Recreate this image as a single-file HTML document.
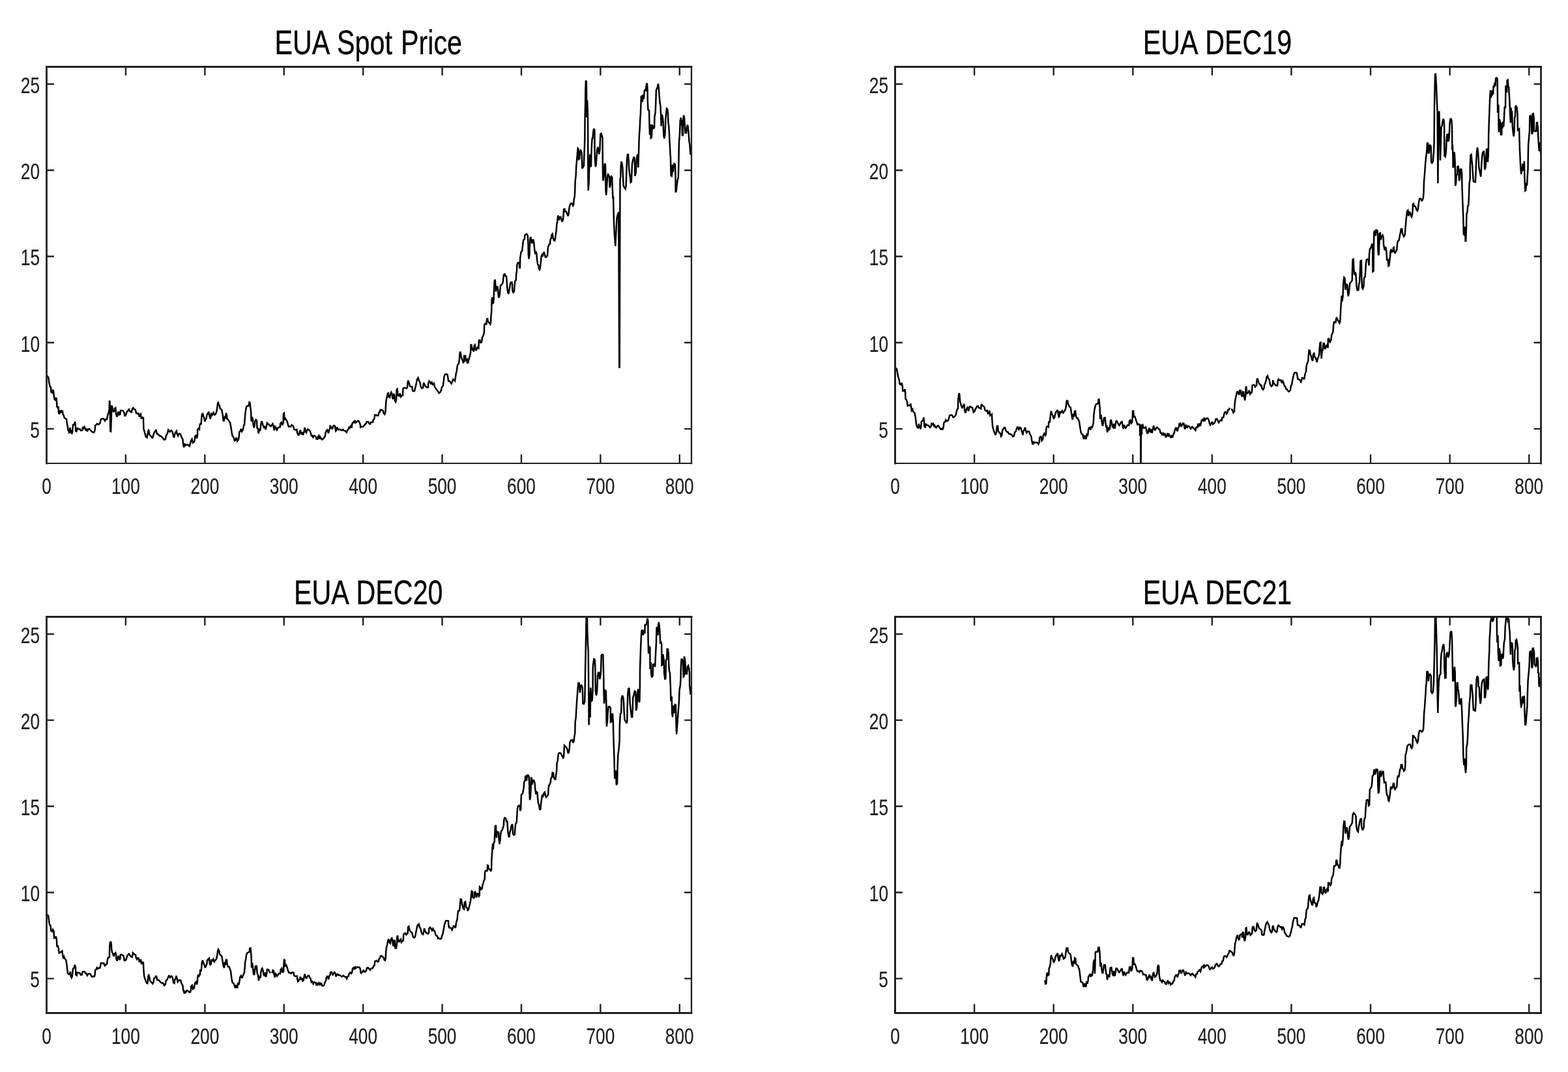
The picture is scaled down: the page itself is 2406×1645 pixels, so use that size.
<!DOCTYPE html>
<html lang="en"><head><meta charset="utf-8"><title>EUA Prices</title>
<style>
html,body{margin:0;padding:0;background:#fff;}
body{width:2406px;height:1645px;overflow:hidden;}
svg{display:block;font-family:"Liberation Sans",sans-serif;}
</style></head>
<body>
<svg width="2406" height="1645" viewBox="0 0 2406 1645">
<rect width="2406" height="1645" fill="#fff"/>
<g>
<clipPath id="c0"><rect x="71.5" y="102.5" width="989.5" height="608.5"/></clipPath>
<path d="M72.3,576.6L74.5,579.6L75.4,587.6L76.7,592.9L78.1,594.6L78.5,601.7L80.1,602.6L81.1,598.1L82,600.8L82.7,606.1L83.6,613.1L85.1,614L86,610L86.9,613.1L87.3,623.7L88.6,625.9L89.5,623.3L90.1,634.3L91.3,634.7L92.4,629.4L93.3,633.4L94.8,630.3L95.9,630.7L96.6,636L97.9,637.8L98.8,641.3L100.1,642.2L101.9,643.1L102.7,648.4L103.6,653.7L104.5,659.8L105.6,662L106.3,665.1L107.6,656.3L108.5,664.2L109.8,659.8L110.2,666L111.1,663.3L112,651.9L113.3,651L114.2,652.8L115.1,647L115.9,653.7L116.2,661.6L117.3,662L118.6,656.3L119.9,658.5L122.1,658.1L123.9,660.7L126.1,660.3L127.1,655L128.3,657.2L129.6,655L130.9,658.1L131.5,660.7L132.7,658.9L134,662L135.3,658.5L137.1,658.1L139.3,660.7L141.5,662.9L144.1,663.8L145.5,660.7L146.2,652.8L147.7,651.9L149,650.1L151.2,651.5L153.4,649.7L154.7,643.5L156.9,642.2L159.1,642.6L160.9,645.7L162.2,643.5L164,643.5L165.3,636.9L166.6,633.4L167.7,628.5L167.9,615.8L168.5,614.9L169.3,661.6L170.1,662L170.8,643.1L171.2,621.9L172.3,624.6L172.8,629L174.5,632.5L176.1,626.8L177.2,625.9L178.1,635.2L179.4,639.6L180.7,634.3L182,631.6L182.9,636.5L184.2,636L185.1,629.9L186.9,629.9L188.6,630.3L190.4,632.5L191.7,638.7L193.5,636L194.8,631.6L196.6,629.9L197.9,628.1L199.6,631.6L201.9,632.5L203.2,626.8L204.5,625.9L205.8,628.1L207.6,628.5L209.3,634.3L211.1,634.7L212.4,634.3L213.7,639.6L215.1,636L215.9,635.2L216.8,642.6L218.1,640.4L219.9,640.9L220.4,658.1L221.7,662.5L223.9,670.4L225.6,671.3L227,663.3L228.1,658.9L229.2,666.9L230.9,668.6L232.7,670.4L234,672.6L235.8,666L237.5,662.5L239.3,660.3L241.1,666L243.3,666.9L245,669.1L247.2,669.5L249.9,672.2L252.1,674.8L253.8,673.9L254.7,669.1L256.9,665.1L258.2,659.8L259.3,661.1L260.6,662.6L262.8,660.4L264.5,662.6L265.4,665.7L266.3,670.1L267.2,670.6L268.5,665.3L269.8,662.6L270.9,661.3L271.6,665.7L273.1,668.8L274.2,666.2L275.1,665.3L276.9,666.2L278.2,670.1L280.4,674.1L281,681.1L282.2,686.4L283.3,680.7L284.8,683.3L286.6,682.5L288.3,682.5L289.6,683.8L291,684.7L292.3,678.9L293.6,675L294.5,673.7L295.8,679.4L298,678.1L298.9,673.7L299.3,669.7L300.7,667.5L302,672.8L302.9,668.8L303.3,658.7L304.6,657.4L305.9,658.7L306.4,653L307.7,649.4L308.6,651.6L309.2,642.4L309.9,635.8L311.2,634.9L312.1,638.4L313.3,641.1L314.1,646.8L315.6,644.1L316.8,641.5L317.4,636.7L319.2,634L320.3,631.8L321.4,638.4L322.5,642.8L323.6,638.9L324.2,634L325.8,636.7L327.5,633.1L329.3,636.7L331.1,634.9L332.4,631.4L333.3,625.6L334.1,618.6L335,617.7L335.9,621.7L336.8,622.1L337.4,626.1L339,627.8L340.3,629.2L341.2,634L341.8,636.7L342.3,642.8L343.2,646.8L344.3,643.3L345,638.4L346,642.4L346.9,634L347.8,636.2L348.5,642.4L350,644.1L351.8,646.8L353.1,648.5L354,653.4L354.8,658.2L355.7,664L356.6,668.8L357.9,670.1L359.3,673.7L360.1,677.2L361.5,673.7L362.8,671.5L364.1,676.7L365.9,674.5L366.7,670.1L367.4,662.6L368.5,661.8L369.8,658.2L371.1,662.2L372.5,660L373.5,656L374.2,652.5L375.1,651.2L375.6,643.3L376.4,634.4L377.3,628.3L378.2,623.9L379.5,623L381.7,622.6L382.6,617.3L383.5,618.1L384.4,626.1L385.2,633.1L385.5,645.5L386.4,645.9L387,639.7L388.1,645L388.8,652.5L389.9,656.5L390.8,651.6L391.4,645.9L392.7,644.1L394.1,645.9L394.5,656.9L395.8,657.4L396.7,665.3L398,657.8L399.3,661.3L400.2,651.6L401.4,646.3L402.4,648.1L403.7,653.4L405.1,656.9L406.4,653.8L407.7,659.1L409,653.8L409.9,649L411.7,650.7L413.9,653L415.6,654.3L417,652.1L418.5,650.3L419.6,654.3L420.9,660.4L422.2,654.7L423.6,656.5L424.9,659.6L426.2,656.9L428,655.6L429.7,655.6L430.2,649.9L431.9,648.1L433.3,652.5L434.6,649L435,634.9L435.9,634L436.6,644.6L438.1,642.4L439.4,644.6L440.7,646.8L441.9,651.6L443,654.7L444.8,654.3L446.2,654.7L447.5,652.1L449.7,653.4L450.6,655.6L451.3,659.1L453.2,659.6L455.4,659.1L456,664L457.2,667L458.5,667.5L459.8,662.6L460.9,660L462,666.6L463.3,663.1L464.7,667.5L466,664.4L466.9,660.9L467.3,656L468.2,657.8L468.9,662.6L470,664L471.3,660L472.2,658.7L473.9,659.6L476.1,662.2L477,665.7L477.9,668.8L479.2,668.4L480.4,671L481.9,668.4L483.6,669.3L485.1,671L485.6,673.7L487.1,673.7L488,670.1L488.9,668.8L490,673.7L491.1,670.1L492.4,672.3L493.9,674.5L495.9,673.2L497.7,671L499,668.8L499.5,664L500.8,660.9L502.1,659.6L503,662.6L504.1,664.8L504.8,660.9L506.1,657.4L506.8,652.5L508,656.5L509.2,656L510,658.7L510.9,654.7L512.4,653L514,653.8L514.4,657.8L515.3,661.3L516.2,660L517.1,655.6L518.4,657.8L519.7,659.6L521.5,658.7L523.3,660L525,660.4L526.3,659.1L528.1,660.9L529.9,661.3L531.8,663.5L533,660.4L534.7,658.2L535.6,655.6L536.9,656.5L538.2,653.8L539.6,656.5L540.4,650.3L541.8,648.1L543.1,646.8L544,649.4L544.7,645L545.7,648.5L547,647.7L548.8,645.9L550.6,646.3L551.9,649L552.8,651.6L553.2,655.6L555,654.7L557.2,654.7L559.4,652.1L561.6,649.9L562.9,647.2L565.1,647.2L566.4,649.9L567.8,650.7L569.1,648.1L570.8,648.1L572.2,647.7L572.6,644.6L574.4,642.8L575,637.1L577,636.7L578.8,638L580.5,637.5L581.4,633.1L582.7,632.7L583.4,629.2L584.9,628.7L586.7,630L588,630.9L588.9,634.4L590.2,635.8L591.4,633.1L591.7,627.8L592.2,617.3L593.1,612L594,608.5L594.9,603.6L595.8,603.2L596.4,608.9L598.1,609.8L599.3,604.1L600.4,601.9L601.4,604.1L602.3,610.7L603.4,612.4L604.3,604.1L605.2,606.3L605.8,614.6L607,616.8L608.1,613.7L608.7,597.9L609.6,597L610.5,606.7L612.2,607.6L614,603.6L614.9,608.9L616.7,607.1L618,606.7L618.4,596.1L619.7,595.2L621.9,595.2L623.7,596.1L625,594.8L625.5,588.2L626.1,583.8L627.2,586L628.1,589.1L629,592.6L630.7,593.5L632.5,593.5L633.1,599.6L634.7,600.5L636,600.1L637.4,594.4L638.7,589.1L639.9,582.5L641.5,579.8L643,584.2L644.5,586.9L645.7,593.5L647.2,595.7L648.9,595.2L650.1,587.3L651.1,589.5L652.9,592.6L655.1,594.4L656.9,594.4L657.3,587.8L658.6,584.7L660.4,586.9L661.3,589.5L662.6,586.9L663.9,590L665.7,588.2L667,593.5L668.8,596.6L671,599.2L672.3,601.4L673.8,603.2L675.4,601.9L676.7,599.6L678,593.9L679.8,592.2L680.7,585.1L681.5,578.1L682.9,574.5L684.2,574.1L686.4,574.5L687.3,578.9L688.1,584.7L689.9,584.7L691.2,586.9L692.7,588.6L694.1,585.1L695.4,582L696.8,583.3L698,584.7L698.9,578.9L699.8,572.8L700.9,569.3L701.4,564L702.2,560L704,557.8L704.9,551.6L705.6,541.1L706.5,539.7L707.5,546.8L708.9,551.2L710.9,556L711.9,554.7L712.1,545.9L714.1,545.9L714.8,553.4L716.8,551.6L717.2,557.8L718.5,556L719.4,551.6L720.7,546.8L722.1,541.1L722.5,529.2L723.6,529.6L724.3,537.5L725.6,535.8L726.9,539.7L727.6,530.5L728.7,529.2L729.6,535.8L730.9,538L731.8,534L733.5,532.2L734.4,535.8L734.8,522.1L736.2,522.1L737.9,526.5L739.3,523.4L740.1,517.3L741.7,514.6L742.8,510.7L743.2,498.8L744.5,496.6L746.3,497.4L747.2,489.5L748.1,489.1L748.9,493.9L750.7,495.2L752.3,497.4L753.2,493.9L753.3,487.3L754.2,477.6L754.5,460.7L755.2,456.3L755.9,466L757.2,464.2L757.6,457.2L758.1,444L758.7,431.6L759.6,429L760.4,438.7L761,447.5L762,439.6L763.6,440.4L764.2,444.8L764.8,454.5L765.7,456.7L766.9,451L767.5,444L768,438.2L769.5,436.9L771,435.2L771.9,431.6L772.4,426.3L773,421.5L774.4,420.6L775.7,423.7L777,424.1L777.7,432.5L778.3,441.3L779.2,448.4L780.5,451L781.6,444L782.7,436.9L783.6,433.4L785.4,433L786,436.9L786.3,445.7L787.6,448.8L788.9,447.5L789.5,439.6L790.2,431.6L791.8,429.9L792.2,419.3L792.9,417.5L793.3,407L794.4,403.4L795.9,403L796.8,405.2L797.3,411.8L798,410.5L798.1,396.4L798.9,391.1L799.5,386.7L801.2,384.9L802.1,376.1L803,368.6L804.8,367.3L805.4,360.7L807,359.8L808,358.9L809.6,360.7L810.3,369.1L810.9,392L811.5,397.3L812.4,392L812.7,378.8L813.6,365.6L814.4,363.8L815.3,369.1L816.5,373.5L817.1,368.2L818.4,368.2L819.3,372.6L820.2,382.3L821.2,390.2L822.4,385.8L823.3,389.3L824.1,398.1L825,405.2L826.3,407L827.2,413.1L828.1,414L829,409.6L829.9,401.7L830.6,392.9L831.6,391.1L832.5,393.7L833.6,389.3L834.7,386.7L836,391.1L836.9,394.6L838.2,394.6L840,392L840.4,385.8L841.1,378.8L842.6,375.2L844,374.4L844.4,368.2L845.7,365.6L846.6,360.3L847.7,358.9L848.8,365.6L850,369.1L851.2,369.5L852.1,364.7L852.8,359.4L853.7,353.2L854.4,343.5L855,341.3L855.9,332.5L856.7,330.7L857.6,337.8L858.9,333.3L860.4,332.9L861.6,337.8L862.9,340.4L864,336.9L864.7,328.1L865.1,321L866.4,320.6L867.3,324.5L868.6,324.5L870.4,328.1L871.5,331.6L872.6,328.1L873.3,320.1L874.2,315.7L875.2,313.1L876.3,311.8L877.7,312.2L879.2,315.7L880.1,314L880.5,306.9L881.6,302.5L882.1,296.3L882.6,278.7L883.6,269.9L884.2,255.8L885.1,246.1L885.8,236.4L886.7,227.6L887.6,228.5L888,244.4L889.3,243.5L890,232L891.1,230.7L892.4,233.8L892.9,240L893.3,258.5L894.6,256.7L895.9,254.1L896.4,237.3L896.8,228.5L897.3,212.6L897.6,179.3L898.1,159.9L898.5,135.2L898.9,123.6L899.8,125.6L900.4,180.2L901.1,153.7L901.9,174.9L902.2,205.7L902.4,271.7L902.7,292.4L903.6,280.5L904.1,261.1L904.8,243.5L905.4,236.7L906.1,255.9L907,255L907.4,237.4L908,221.5L908.7,211.8L909.3,213.7L910,205.7L910.7,199.6L911.5,197.6L912.4,199.6L912.5,228.8L912.8,242L913.3,250.8L913.9,256.1L914.8,250.8L915.7,237.6L916.3,228.8L917.4,225.7L918.6,232.3L919.2,236.7L920.4,230.6L920.7,221.8L921.4,205.7L922.5,204.8L923.6,208.4L924.5,211.2L924.8,246.4L925.1,271.1L925.6,277.3L926.5,271.1L927.1,260.5L928,250.8L928.9,252.6L929.3,272.9L929.5,294L930.2,299.3L930.9,289.6L931.5,279.9L932.4,269.3L933,267.6L934.2,269.3L935.1,271.1L935.5,287.8L936.4,285.2L937.3,272.9L938.1,270.7L939.2,272L939.7,287L940.4,304.6L941,301.1L941.7,330.1L942.1,343.3L943,361L944.3,377.7L945.6,352.2L946.5,334.5L947.8,329.3L949.2,325.3L950.2,563.6L950.7,563.6L951.4,308.1L951.5,275.5L952.2,272L952.7,255.2L953.3,247.8L954.4,250.8L955.3,257L955.9,271.1L956.7,285.2L958,287.8L959.7,290L960.6,285.2L961.2,267.6L961.9,246.4L962.8,237.6L963.9,236.3L964.6,247.3L965.3,260.5L966.2,267.6L967,272L967.7,279.9L968.8,279L969.4,264.9L970,251.7L971.2,245.6L972.3,241.6L973.6,242L974.1,254.4L974.4,270.2L975.6,265.8L976.2,256.1L976.7,246.4L977.6,238.5L978.7,237.6L979.4,257L980,235L980.6,214.5L981.1,204.8L981.8,195.2L982.2,184.6L982.9,174.9L983.3,164.3L983.8,148.5L984.7,147.6L985.3,156.4L986.2,153.7L987,145.8L987.9,152L988.8,139.6L989.7,137.9L991,138.8L991.7,130.4L992.8,127.5L993.5,135.2L993.8,155.5L994.5,168.7L996.1,169.6L996.5,190.7L997,206.6L998.1,190.7L998.8,211.9L999.8,211L1000.9,192.5L1002,193.4L1002.9,197.8L1004.1,195.2L1004.4,179.3L1005.6,173.1L1006.2,159.9L1006.9,137.9L1008.2,136.1L1009.1,132.6L1010,128.4L1010.8,135.2L1011.7,147.6L1012.6,158.1L1013.5,162.6L1014.1,175.8L1014.6,193.4L1015.7,175.8L1016.7,179.3L1017.6,186.3L1018.3,207.5L1019.4,212.8L1020.3,207.5L1021,193.4L1021.4,181.9L1022.3,173.1L1022.9,166.5L1024.1,167.4L1024.9,174L1025.4,188.1L1026.1,192.5L1026.7,200.4L1027.3,214.5L1028,225.1L1028.5,237.4L1028.9,239.8L1029.6,269.3L1030.7,270.2L1031.4,264.1L1032,252.6L1032.9,264.1L1033.7,255.2L1034.6,251.3L1035.9,252.2L1036.4,264.1L1036.7,295.3L1037.7,293.1L1038.6,285.2L1039.5,277.3L1040.8,272L1041.2,259.6L1041.7,230.6L1042.1,215.4L1043,205.7L1043.7,185.5L1044.8,180.6L1045.6,192.5L1046.3,183.7L1047,208.4L1047.8,207.5L1048.5,181.1L1049.2,176.7L1050,180.6L1050.9,193.4L1051.4,204L1053.1,204L1054,195.2L1054.9,191.6L1055.8,195.2L1056.7,204.8L1057.5,217.2L1058.4,221.6L1059.3,235.7L1060.6,237.4" fill="none" stroke="#000" stroke-width="2.5" stroke-linejoin="miter" stroke-miterlimit="2.5" clip-path="url(#c0)"/>
<g stroke="#202020" stroke-linecap="square" fill="none"><line x1="71.5" y1="102.5" x2="71.5" y2="711.0" stroke-width="2.8"/><line x1="71.5" y1="102.5" x2="1061.0" y2="102.5" stroke-width="2.8"/><line x1="1061.0" y1="102.5" x2="1061.0" y2="711.0" stroke-width="2.3"/><line x1="71.5" y1="711.0" x2="1061.0" y2="711.0" stroke-width="2.2"/></g>
<text transform="translate(71.50,758.00) scale(0.76,1)" text-anchor="middle" font-size="34.6" fill="#202020" stroke="#202020" stroke-width="0.2">0</text>
<text transform="translate(192.91,758.00) scale(0.76,1)" text-anchor="middle" font-size="34.6" fill="#202020" stroke="#202020" stroke-width="0.2">100</text>
<text transform="translate(314.32,758.00) scale(0.76,1)" text-anchor="middle" font-size="34.6" fill="#202020" stroke="#202020" stroke-width="0.2">200</text>
<text transform="translate(435.73,758.00) scale(0.76,1)" text-anchor="middle" font-size="34.6" fill="#202020" stroke="#202020" stroke-width="0.2">300</text>
<text transform="translate(557.14,758.00) scale(0.76,1)" text-anchor="middle" font-size="34.6" fill="#202020" stroke="#202020" stroke-width="0.2">400</text>
<text transform="translate(678.56,758.00) scale(0.76,1)" text-anchor="middle" font-size="34.6" fill="#202020" stroke="#202020" stroke-width="0.2">500</text>
<text transform="translate(799.97,758.00) scale(0.76,1)" text-anchor="middle" font-size="34.6" fill="#202020" stroke="#202020" stroke-width="0.2">600</text>
<text transform="translate(921.38,758.00) scale(0.76,1)" text-anchor="middle" font-size="34.6" fill="#202020" stroke="#202020" stroke-width="0.2">700</text>
<text transform="translate(1042.79,758.00) scale(0.76,1)" text-anchor="middle" font-size="34.6" fill="#202020" stroke="#202020" stroke-width="0.2">800</text>
<text transform="translate(61.00,671.79) scale(0.76,1)" text-anchor="end" font-size="34.6" fill="#202020" stroke="#202020" stroke-width="0.2">5</text>
<text transform="translate(61.00,539.50) scale(0.76,1)" text-anchor="end" font-size="34.6" fill="#202020" stroke="#202020" stroke-width="0.2">10</text>
<text transform="translate(61.00,407.22) scale(0.76,1)" text-anchor="end" font-size="34.6" fill="#202020" stroke="#202020" stroke-width="0.2">15</text>
<text transform="translate(61.00,274.94) scale(0.76,1)" text-anchor="end" font-size="34.6" fill="#202020" stroke="#202020" stroke-width="0.2">20</text>
<text transform="translate(61.00,142.66) scale(0.76,1)" text-anchor="end" font-size="34.6" fill="#202020" stroke="#202020" stroke-width="0.2">25</text>
<path d="M192.91,711.0v-13.8M192.91,102.5v13.3M314.32,711.0v-13.8M314.32,102.5v13.3M435.73,711.0v-13.8M435.73,102.5v13.3M557.14,711.0v-13.8M557.14,102.5v13.3M678.56,711.0v-13.8M678.56,102.5v13.3M799.97,711.0v-13.8M799.97,102.5v13.3M921.38,711.0v-13.8M921.38,102.5v13.3M1042.79,711.0v-13.8M1042.79,102.5v13.3M71.5,658.09h11.4M1061.0,658.09h-10.9M71.5,525.80h11.4M1061.0,525.80h-10.9M71.5,393.52h11.4M1061.0,393.52h-10.9M71.5,261.24h11.4M1061.0,261.24h-10.9M71.5,128.96h11.4M1061.0,128.96h-10.9" fill="none" stroke="#202020" stroke-width="2.4"/>
<text transform="translate(565.25,82.70) scale(0.783,1)" text-anchor="middle" font-size="52.7" fill="#000" stroke="#000" stroke-width="0.35" word-spacing="2">EUA Spot Price</text>
</g>
<g>
<clipPath id="c1"><rect x="1373.5" y="102.5" width="991.0" height="608.5"/></clipPath>
<path d="M1374.3,564.7L1376.1,566.4L1377.2,572.6L1378.3,578.8L1379.6,582.3L1380.5,589.3L1382.1,590.2L1383.6,587.6L1384.7,592L1385.3,599.9L1387.1,599.9L1388.4,597.3L1389.1,601.7L1389.5,612.2L1391.1,614L1391.8,616.7L1392.8,622.8L1394.8,621.9L1395.9,622.4L1397.2,619.3L1398.1,624.6L1398.8,629.9L1400.3,628.1L1401.2,631.6L1403.4,633.4L1404.5,638.7L1405.3,644.8L1406.1,651.9L1407.4,655.4L1408.7,657.2L1409.8,650.1L1410.6,656.3L1411.8,652.8L1412.4,658.9L1413.3,653.7L1414,646.6L1415.3,645.7L1416.4,644.8L1417.3,640.4L1417.9,645.7L1418.4,654.5L1419.7,655.4L1420.9,651L1422.4,652.3L1424.7,652.8L1425.9,654.5L1427,655.9L1428.5,654.5L1429.4,650.1L1430.7,651.5L1432,650.1L1433.2,653.7L1434.2,652.8L1435.3,655.4L1436.7,656.3L1437.9,654.1L1439.5,653.2L1441.3,655.4L1443.1,658.5L1445.3,657.6L1446.4,658.5L1447.5,656.3L1448.3,649.3L1449.2,647.5L1450.5,647L1451.2,644.4L1452.7,646.2L1455.2,644.8L1456.1,641.3L1457.2,637.4L1458.9,636.9L1461.1,637.4L1462.4,640.4L1464.2,640L1465.8,637.8L1466.8,636.5L1467.7,631.6L1468.8,628.1L1469.9,627.2L1470.2,614.9L1471.1,605.2L1472,603.4L1472.6,608.7L1473.2,616.7L1474.3,619.3L1474.8,621.9L1476.5,626.3L1478.1,621.9L1479.6,620.2L1480.2,630.7L1481.6,633.8L1482.9,628.1L1484.3,625.5L1485.3,628.1L1486.4,630.7L1487.3,624.6L1488.4,623.7L1490.2,625L1492,625.5L1492.8,628.1L1493.7,632.5L1495.5,631.2L1496.8,627.2L1498.1,625.9L1499.4,623.3L1501,623.3L1502.1,625.9L1503.9,626.3L1505.2,627.2L1505.8,620.2L1507.4,622.4L1509,623.3L1510.5,624.6L1511.3,629L1513.1,630.7L1514.9,629.9L1516,634.7L1517.5,634.3L1518.4,629.9L1519.3,637.8L1520.6,636.9L1521.9,635.6L1522.4,644.8L1523.1,654.5L1524.1,658.1L1525.7,663.3L1527.6,667.8L1529,662.5L1529.8,653.7L1531,653.7L1531.6,660.7L1533.4,664.2L1535.1,665.1L1536,669.5L1537.3,667.8L1538.2,660.7L1539.5,658.1L1540.9,655.9L1542.2,656.3L1543.3,660.7L1544.8,662.5L1546.6,662.9L1547.9,665.6L1550.1,666L1552.3,666.9L1554.1,670L1555.8,669.1L1557.2,663.3L1558.9,661.6L1560.2,657.2L1561.6,654.5L1562.1,656.8L1563.3,659L1564.8,655.9L1566.5,656.8L1567.7,661.6L1568.7,664.3L1569.4,667.4L1570.5,661.6L1571.8,659L1573,655.9L1574,660.7L1575.3,664.3L1576.7,662.1L1579.1,662.1L1580.2,666L1582.4,669.6L1583,674.8L1583.9,679.3L1584.8,682.3L1585.9,677.5L1587.2,679.7L1589,678.8L1591.6,679.3L1593.4,681.5L1594.7,678.4L1595.2,672.2L1596.5,670L1597.6,670.4L1598.5,676.2L1600,674.4L1600.9,667.8L1602.4,665.2L1604,668.2L1605,666L1605.3,658.1L1606.4,654.6L1607.9,654.1L1608.8,655L1609.3,646.7L1610.6,648.4L1611.2,644L1612.1,635.6L1613,630.8L1613.9,635.2L1615.3,637L1616.8,642.7L1618.1,640.5L1618.8,637L1620,633L1621.6,630.8L1622.9,629L1623.8,635.2L1624.7,639.6L1625.6,638.7L1626,631.2L1627.8,633.4L1629.7,630.4L1631.3,633.4L1632.6,631.7L1634.1,629.9L1635.3,626.4L1636.1,621.1L1636.8,614.9L1638.2,614.9L1638.8,619.3L1640.1,622.4L1641.4,624.6L1642.7,625.1L1643.5,630.8L1644.3,635.2L1645,640.5L1645.8,644L1646.7,635.2L1648,639.6L1648.9,631.2L1650,630.8L1650.9,637.8L1652,641.4L1653.8,641.4L1654.9,644.9L1656,646.2L1656.7,651.9L1657.7,658.1L1658.6,663.4L1659.7,666L1661.3,666.5L1662.1,670.4L1663,674L1664.3,668.2L1665.7,671.3L1666.5,674L1667.9,665.2L1669,669.1L1670.1,659L1671.8,655.5L1673.4,659.9L1674.5,655L1675.8,655.9L1676.9,652.8L1677.8,648.4L1678.4,637L1679.3,629.5L1680.5,623.7L1681.7,620.2L1683.3,619.8L1684.9,619.3L1685.5,613.2L1686.4,612.7L1687,619.3L1687.7,626.4L1688.1,643.1L1689.4,636.5L1690.3,643.6L1691.2,651.1L1692.1,653.7L1693.1,647.5L1693.9,641.4L1695.6,640.9L1696.5,649.3L1697.2,654.6L1698.3,654.1L1699,663.4L1700,660.7L1701.3,655.5L1702.2,659.9L1703.1,656.3L1704,645.8L1704.9,644L1705.7,647.5L1706.9,654.6L1708.1,655.9L1709,650.2L1710.6,657.7L1711.6,651.1L1712.4,646.7L1713.4,645.8L1714.8,648L1716.1,651.1L1717.5,652.8L1719,650.2L1720.5,647.5L1721.6,647.1L1722.7,653.7L1723.8,658.1L1724.9,651.9L1726,654.6L1727.3,656.8L1728.7,654.6L1730,652.4L1732.2,652.8L1733.1,645.8L1734.4,644.9L1735.7,649.7L1737,648.4L1737.7,641.4L1738.1,630.8L1739.2,630.8L1739.7,639.6L1741.3,639.2L1742.7,643.1L1744.1,647.5L1745.4,651.5L1746.9,651.1L1746.9,650.9L1748.2,651.2L1748.9,651.5L1749.3,669L1749.7,651.8L1750.2,669L1750.3,717.4L1750.6,717.4L1750.9,669L1751.4,651.8L1751.9,667.2L1752.4,651.8L1753.2,651.5L1753.9,653.1L1754.8,656.7L1756.6,656.7L1758.1,655.3L1759,659.3L1760.1,664.6L1761.4,664.6L1762.5,659.3L1763.6,656.7L1765,663.7L1766.3,658.4L1767.6,664.6L1768.9,659.3L1770.1,653.1L1771.1,657.5L1772.4,660.6L1773.8,657.5L1775.1,655.8L1776.4,656.2L1778,658.4L1779.5,659.3L1780.8,664.6L1782.1,664.6L1783.3,668.1L1784.8,665L1786.1,667.2L1787.4,665.9L1788.9,671.2L1790.1,669L1791.4,664.6L1792.7,669.9L1794,666.8L1795.4,669L1796.7,672.1L1798,669L1799.3,670.3L1800.6,666.3L1802,663.7L1802.8,659.3L1804.6,655.8L1805.5,659.3L1806.8,661.9L1807.7,656.7L1809,654.9L1809.7,650L1811.2,649.6L1812.5,654.9L1813.9,651.8L1815.2,649.6L1816.5,650L1817.4,655.8L1818.5,658.4L1819.8,652.7L1820.9,654L1821.8,656.7L1823.1,653.6L1824.9,654.4L1827.1,658L1829.3,654.9L1831,656.7L1832.8,658L1834.4,660.2L1835.4,655.8L1837.2,655.8L1838.1,651.8L1839.4,653.6L1840.7,649.6L1841.8,654L1842.9,649.6L1843.8,644.8L1845.1,643.9L1846.5,645.6L1847.8,640.8L1849.1,644.8L1850.4,643L1851.7,641.7L1853.5,642.1L1854.8,644.8L1855.9,649.6L1857,652.2L1858.8,649.6L1859.9,647L1861,650.9L1862.8,649.6L1864.5,647.4L1865.6,643L1867.2,642.6L1868.9,646.1L1870.2,648.3L1872,645.6L1873.5,644.3L1874.6,645.2L1875.3,640.8L1877.3,640.4L1878.2,635.9L1879.1,632.9L1880.8,632L1882.1,635.1L1883.5,633.3L1884.3,628.9L1885.8,628.5L1887,625.8M1889.6,627.1L1890.9,629.3L1892.5,633.3L1894,631.1L1894.6,620.5L1895.4,613.5L1896.4,609.5L1897.3,604.7L1898.4,600.3L1899.6,602.9L1901.3,606L1902,598.9L1903.7,598.9L1904.6,605.6L1905.9,609.1L1907,601.1L1908.1,601.6L1909,609.1L1910.2,614.4L1911,609.1L1911.7,594.1L1912.5,594.1L1913.1,603.8L1915.2,602.9L1916.9,598.9L1918.3,604.7L1919.6,602.9L1920.9,602L1921.6,591.5L1923.1,590.6L1924.9,591L1926,593.7L1928,591.5L1928.4,584.4L1929.3,580.4L1930.6,584.4L1931.9,588.4L1933.7,590.1L1934.8,591.9L1935.4,590.4L1936.3,595.7L1938.2,597.9L1939.5,595.7L1940.2,590.4L1941.6,587.8L1942.6,584.2L1943.7,578.1L1945.1,576.7L1946.1,580.7L1947.7,582.5L1948.6,587.8L1949.7,591.7L1951,593L1952.8,590.8L1953.2,583.3L1954.3,587.8L1955.8,589.5L1958,591.7L1960.1,591.7L1960.7,585.1L1961.8,582L1963.8,583.8L1965.5,583.3L1967.1,587.8L1968.3,584.7L1969.5,586.9L1970.8,592.2L1972.1,593L1973.3,596.6L1974.8,597.4L1976.1,599.6L1977.4,601L1978.9,600.1L1980.1,598.3L1980.9,592.2L1982.3,589.5L1983.1,584.2L1984.2,578.9L1985.4,574.5L1986.2,571.9L1988,571.7L1989.8,572.3L1990.6,576.3L1991.3,581.6L1993.3,582L1994.6,583.3L1996.2,586L1997.2,583.3L1998.1,579.8L1999.9,580.3L2001.2,582L2002.1,576.3L2003,572.3L2004.1,570.1L2004.5,563.1L2005.4,558.7L2006.5,556L2007.4,553.4L2007.8,545.5L2008.7,537.5L2010,538L2010.6,543.7L2011.8,546.3L2013.1,551.6L2014.4,553.8L2015,543.7L2016.2,542.4L2017.1,547.2L2018.4,549L2019.7,551.6L2020.6,556L2021.7,550.7L2023,548.1L2024.1,544.6L2024.7,534.9L2025.6,526.1L2026.5,525.6L2027.2,539.3L2027.6,550.3L2028.5,539.3L2029.8,537.5L2030.6,527L2031.8,527L2032.7,534L2033.5,535.8L2035,530.5L2036.2,529.2L2037.6,534L2038,519.9L2039.1,519.7L2040.9,524.8L2042.6,521.7L2043.1,514.6L2044.4,512L2045.5,508.9L2046.1,499.6L2047,493.9L2048.3,493.9L2049.4,495.7L2050.1,490L2051,486.9L2052.3,490.8L2053.8,492.6L2055.4,495.7L2056.3,493.5L2056.7,487.3L2057.3,474.1L2057.9,465.3L2058.7,453.7L2059.4,462.5L2060.5,455.4L2060.9,444L2061.6,431.6L2062.4,425.5L2063.3,426.3L2063.9,431.6L2064.5,444.8L2065.6,438.7L2066.5,435.6L2067.4,437.8L2068,448.4L2068.9,454.5L2069.8,450.1L2070.6,441.3L2071.1,435.2L2072.4,433.4L2073.7,432.1L2074.8,429.9L2075,416.7L2075.7,398.1L2076.8,397.7L2077.2,410.5L2078.1,421.9L2079.4,418.4L2080.3,419.3L2080.9,428.1L2081.5,438.7L2082.7,445.3L2084.3,445.3L2085.2,436.9L2086.1,431.6L2086.9,417.5L2087.6,400.4L2088.9,399.9L2089.4,428.1L2090,441.3L2091.2,443.1L2092.4,439.6L2093.1,426.3L2094.7,424.6L2095.3,415.8L2095.9,405.2L2096.8,398.6L2098.4,397.7L2099.7,398.6L2100.6,407.4L2101,391.1L2101.9,382.3L2103.2,380.5L2104.4,377.9L2105.3,373.9L2106.1,377L2106.5,416.7L2107.6,415.8L2107.9,387.6L2108.3,357.6L2109,353.7L2110.7,362L2111.6,353.2L2113.5,353.7L2114.1,360.3L2114.4,380.5L2115,391.5L2115.8,390.2L2116.4,373.5L2116.9,358.1L2117.9,357.6L2118.7,368.2L2120,362.9L2121.5,360.7L2122.6,363.8L2123.1,375.2L2124.1,381.4L2125,384.1L2126.1,378.8L2127,382.3L2127.6,390.2L2128.3,399.9L2129.7,397.3L2130.5,408.3L2131.4,407.8L2132.3,399.9L2133.2,392L2133.8,384.5L2134.5,383.6L2135.6,386.7L2137.2,385.8L2137.9,380.5L2138.7,379.6L2139.6,386.7L2140.7,388L2142,385.8L2143.3,383.6L2144,374.4L2144.9,370L2146.4,369.1L2147.3,365.6L2148.2,359.4L2149,357.2L2149.7,351.5L2151.3,351.5L2152,358.5L2153,360.3L2154.1,363.1L2155.7,360.7L2156.4,351.5L2157,344.4L2158,333.3L2158.7,327.2L2159.4,323.7L2160.3,322.8L2161.2,331.6L2162.4,325.4L2163.9,326.3L2165.1,331.6L2166,332.9L2167.1,328.9L2167.6,322.8L2168,313.5L2168.9,312.6L2170,316.2L2171.5,316.6L2172.8,319.3L2173.9,322.8L2175,323.7L2175.9,321L2176.5,314.8L2177.2,309.6L2178.1,305.2L2179.4,304.7L2180.8,306L2181.8,308.7L2183,306L2183.9,303.4L2184.5,295.5L2185,278.7L2185.6,272.6L2186.2,264.6L2187.1,252.3L2188,241.7L2188.9,235.6L2189.6,227.6L2190,219.7L2191.2,219.7L2191.8,235.6L2192.9,233.8L2193.5,223.2L2194.7,222.8L2195.7,225L2196.2,248.8L2197.3,250.1L2198.8,247.9L2199.4,239.1L2200,232.9L2200.6,218.8L2201,166.1L2201.6,135.2L2202,114.1L2202.9,113.7L2203.8,129.1L2204.7,150.2L2205.6,171.4L2205.9,211.9L2206.4,281.3L2207.1,205.7L2207.5,171.8L2208.4,171.8L2209.1,199.6L2210,246.1L2211,214.5L2211.5,195.6L2212.8,192.5L2213.5,187.2L2214.5,183.3L2215.4,183.7L2216.1,192.5L2216.3,223.3L2216.5,239L2217.6,240.4L2218.5,236.4L2219.1,227.6L2219.6,215.4L2220.4,206.6L2221.4,206.2L2222.1,217.2L2223.2,214.5L2223.9,205.7L2224.5,190.7L2225.4,182.8L2226.3,182.4L2227.4,184.6L2228,193.4L2228.2,210.1L2228.3,230.2L2229,222.3L2229.4,238.1L2229.6,256.3L2230.1,256.3L2230.8,238.2L2231.7,233.3L2232.6,247L2233.2,285.3L2234.1,281.4L2234.7,269L2235.8,268.1L2236.3,255.8L2237.6,255.4L2238.5,262.9L2238.9,277.4L2240,275.2L2240.9,259.8L2242.4,259.8L2243.1,267.3L2243.5,286.7L2244.4,312.2L2245.3,333.3L2245.8,358.7L2247.1,361.3L2248,347.7L2248.6,369.7L2249.3,369.7L2250,348.1L2250.4,328.7L2251.5,325.2L2252.2,316.4L2253.3,314.6L2253.9,302.3L2254.6,282L2255.7,274.1L2255.8,255.4L2256.5,238.2L2257.6,237.3L2258.3,245.2L2259.2,254.1L2260.1,268.1L2260.9,278.3L2262.3,278.7L2263.8,279.2L2264.5,266.4L2265.2,247L2266.1,232.9L2266.9,226.3L2267.8,231.1L2268.7,243.5L2269.3,255.8L2270.2,261.1L2271.3,266.4L2272.2,271.2L2272.8,262.9L2273.5,248.8L2274.2,240L2275,234.7L2276.8,231.3L2277.7,240.8L2278.1,260.2L2279.4,257.6L2280.3,243.5L2281,229.4L2282.1,228.9L2282.8,248.8L2283.7,239.1L2284,223.2L2284.2,204.8L2284.7,189.9L2285.3,174.9L2285.7,161.7L2286.4,146.7L2287,138.3L2287.9,150.2L2288.8,138.8L2290.1,144.9L2291.2,143.6L2291.5,131.7L2292.3,134.4L2293.2,129.1L2294.5,130.4L2295.2,120.3L2296.5,119.4L2297.6,120.7L2297.9,144.1L2298.1,173.1L2298.5,160.8L2299.4,161.7L2299.5,189.9L2299.8,202.6L2300.7,182.8L2302,187.2L2302.9,206.6L2304.2,206.6L2304.4,188.1L2305.6,196.9L2306.4,186.3L2307.3,194.3L2308.2,174.9L2308.8,163.4L2310,166.1L2310.4,132.6L2311.7,132.6L2312.2,142.3L2312.6,123.3L2313.7,122.5L2314.4,133.5L2315.2,133.9L2315.7,144.1L2316.4,154.6L2317,173.1L2317.9,188.5L2318.3,165.2L2319.2,170.5L2320.1,171.4L2320.8,194.3L2321.9,204.8L2322.7,209.3L2323.4,204L2324.1,180.2L2324.9,178.4L2325.4,163.4L2326.4,162.6L2327.6,165.2L2328.5,175.8L2328.9,199.6L2331.1,197.8L2331.5,214.5L2332,232.2L2332.1,232L2333,252.3L2334.1,267.3L2335.4,262L2336.3,251.4L2337.6,262L2338.9,247.4L2339.4,271.7L2340.2,292.8L2341.3,291.9L2341.8,282.2L2343.2,282.9L2343.6,273.2L2344.5,260L2344.8,240L2345.2,221.6L2346.1,211L2347,200.4L2347.4,178.4L2348.5,177.5L2349.6,180.2L2350.5,205.7L2351.4,204.8L2351.6,174.9L2352.7,174.4L2353.6,180.2L2354,201.3L2355.3,201.3L2357.1,201.3L2357.8,188.5L2358.9,188.1L2359.7,194.7L2360.4,212.8L2361.3,226L2361.9,232.2L2362.8,218.5L2363.7,223.3L2364.3,237.4" fill="none" stroke="#000" stroke-width="2.5" stroke-linejoin="miter" stroke-miterlimit="2.5" clip-path="url(#c1)"/>
<g stroke="#202020" stroke-linecap="square" fill="none"><line x1="1373.5" y1="102.5" x2="1373.5" y2="711.0" stroke-width="3.0"/><line x1="1373.5" y1="102.5" x2="2364.5" y2="102.5" stroke-width="2.8"/><line x1="2364.5" y1="102.5" x2="2364.5" y2="711.0" stroke-width="2.8"/><line x1="1373.5" y1="711.0" x2="2364.5" y2="711.0" stroke-width="2.2"/></g>
<text transform="translate(1373.50,758.00) scale(0.76,1)" text-anchor="middle" font-size="34.6" fill="#202020" stroke="#202020" stroke-width="0.2">0</text>
<text transform="translate(1495.10,758.00) scale(0.76,1)" text-anchor="middle" font-size="34.6" fill="#202020" stroke="#202020" stroke-width="0.2">100</text>
<text transform="translate(1616.69,758.00) scale(0.76,1)" text-anchor="middle" font-size="34.6" fill="#202020" stroke="#202020" stroke-width="0.2">200</text>
<text transform="translate(1738.29,758.00) scale(0.76,1)" text-anchor="middle" font-size="34.6" fill="#202020" stroke="#202020" stroke-width="0.2">300</text>
<text transform="translate(1859.88,758.00) scale(0.76,1)" text-anchor="middle" font-size="34.6" fill="#202020" stroke="#202020" stroke-width="0.2">400</text>
<text transform="translate(1981.48,758.00) scale(0.76,1)" text-anchor="middle" font-size="34.6" fill="#202020" stroke="#202020" stroke-width="0.2">500</text>
<text transform="translate(2103.07,758.00) scale(0.76,1)" text-anchor="middle" font-size="34.6" fill="#202020" stroke="#202020" stroke-width="0.2">600</text>
<text transform="translate(2224.67,758.00) scale(0.76,1)" text-anchor="middle" font-size="34.6" fill="#202020" stroke="#202020" stroke-width="0.2">700</text>
<text transform="translate(2346.26,758.00) scale(0.76,1)" text-anchor="middle" font-size="34.6" fill="#202020" stroke="#202020" stroke-width="0.2">800</text>
<text transform="translate(1363.00,671.79) scale(0.76,1)" text-anchor="end" font-size="34.6" fill="#202020" stroke="#202020" stroke-width="0.2">5</text>
<text transform="translate(1363.00,539.50) scale(0.76,1)" text-anchor="end" font-size="34.6" fill="#202020" stroke="#202020" stroke-width="0.2">10</text>
<text transform="translate(1363.00,407.22) scale(0.76,1)" text-anchor="end" font-size="34.6" fill="#202020" stroke="#202020" stroke-width="0.2">15</text>
<text transform="translate(1363.00,274.94) scale(0.76,1)" text-anchor="end" font-size="34.6" fill="#202020" stroke="#202020" stroke-width="0.2">20</text>
<text transform="translate(1363.00,142.66) scale(0.76,1)" text-anchor="end" font-size="34.6" fill="#202020" stroke="#202020" stroke-width="0.2">25</text>
<path d="M1495.10,711.0v-13.8M1495.10,102.5v13.3M1616.69,711.0v-13.8M1616.69,102.5v13.3M1738.29,711.0v-13.8M1738.29,102.5v13.3M1859.88,711.0v-13.8M1859.88,102.5v13.3M1981.48,711.0v-13.8M1981.48,102.5v13.3M2103.07,711.0v-13.8M2103.07,102.5v13.3M2224.67,711.0v-13.8M2224.67,102.5v13.3M2346.26,711.0v-13.8M2346.26,102.5v13.3M1373.5,658.09h11.4M2364.5,658.09h-10.9M1373.5,525.80h11.4M2364.5,525.80h-10.9M1373.5,393.52h11.4M2364.5,393.52h-10.9M1373.5,261.24h11.4M2364.5,261.24h-10.9M1373.5,128.96h11.4M2364.5,128.96h-10.9" fill="none" stroke="#202020" stroke-width="2.4"/>
<text transform="translate(1868.00,82.70) scale(0.783,1)" text-anchor="middle" font-size="52.7" fill="#000" stroke="#000" stroke-width="0.35" word-spacing="2">EUA DEC19</text>
</g>
<g>
<clipPath id="c2"><rect x="71.5" y="946.5" width="989.5" height="608.0"/></clipPath>
<path d="M72.3,1403.8L74.1,1405.1L75,1412.2L76,1418.4L77.6,1421L78.3,1428.1L79.8,1429.4L81.1,1426.3L82.5,1428.9L83.1,1439.5L84.7,1439.1L86,1436.9L86.9,1442.1L87.3,1451.8L88.9,1451.8L89.8,1455.4L90.7,1462.4L92.2,1461.5L93.5,1460.7L95.4,1459.3L96.1,1465.1L97,1469.5L98.3,1467.7L99.2,1470.8L101.2,1473L102.3,1479.2L103.2,1487.1L103.9,1493.3L105.4,1495L106.7,1494.1L108,1491L108.6,1497.7L109.8,1500.3L110.9,1497.7L111.5,1490.6L112.2,1486.2L113.7,1485.3L114.8,1480.5L115.9,1484.4L116.4,1495.9L117.7,1496.8L118.3,1492.4L120.4,1492.8L122.7,1493.3L123.9,1495.9L125.6,1495.9L127,1491L128.7,1491L130,1491L131.2,1493.7L132.4,1493.7L134,1496.8L135.3,1494.6L137.1,1494.1L138.6,1494.6L140.2,1497.7L141.5,1499L143.3,1498.1L144.8,1498.5L145.6,1495.9L146.2,1488.8L147.7,1487.5L148.8,1484.9L150.3,1486.6L151.8,1485.3L153.4,1485.3L154.3,1480.9L155,1477.8L156.9,1478.1L159.1,1478.1L160.9,1481.8L162.6,1480L164,1479.6L164.8,1473.9L165.7,1469.5L167.9,1469L168.2,1454.5L168.8,1446.6L170,1444.8L170.8,1449.2L171.2,1457.1L172.1,1461.5L173.2,1463.3L174.5,1467.7L175.9,1463.3L177.2,1462L178.1,1464.2L178.5,1471.2L179.6,1474.7L180.9,1468.6L182,1466.8L183.2,1473L184.4,1471.2L184.9,1465.1L186.4,1464.6L188.2,1465.9L189.5,1466.4L190.8,1473.9L192.2,1473.9L193.7,1472.1L194.8,1467.7L196.1,1465.5L197.9,1463.7L199.2,1465.5L200.3,1467.7L201.9,1468.1L202.9,1468.6L203.8,1462L205.2,1463.3L206.4,1464.9L208,1465.1L208.9,1470.3L210.2,1472.1L211.5,1469.9L212.9,1470.3L213.7,1475.6L215.2,1475.6L216.1,1472.1L217,1479.6L218.1,1476.5L219.9,1477L220.4,1488L221.2,1497.7L222.1,1501.2L223.7,1505.6L225.2,1508.7L226.3,1509.1L227.2,1501.2L228.1,1495L229.2,1499.4L230,1504.7L231.8,1506.5L233.1,1508.2L234.3,1509.6L235.5,1507.3L236.2,1501.2L237.8,1500.3L239,1498.1L240.2,1498.5L241.1,1503.8L243.3,1503.8L245,1505.6L246.3,1507.3L248.1,1508.2L250.3,1508.7L252.1,1512.2L253.7,1510.9L254.7,1504.7L256.7,1502.9L258.1,1499.4L259.1,1497.2L259.7,1497.4L261,1500L262.8,1497.8L264.5,1499.2L265.4,1503.6L266.3,1508L267.4,1508.8L268.5,1502.7L269.8,1500.9L270.4,1497.4L271.6,1501.8L272.7,1506.6L274.2,1504.4L275.6,1504L277.3,1504.4L278.4,1508.8L280.4,1512.4L281,1518.5L282.2,1522.1L283,1524.7L284.2,1520.3L285.2,1522.5L287,1519.9L288.8,1520.7L290.5,1522.9L292.1,1522.5L293,1518.5L293.3,1513.3L294.8,1511.9L296,1517.7L297.6,1516.8L298.5,1511.9L299.5,1508L300.9,1506.6L302,1510.6L302.9,1507.1L303.3,1499.2L304.2,1495.6L305.5,1497.8L306.8,1495.6L307.3,1487.7L308.6,1490.8L309.2,1485.1L309.9,1476.2L311,1473.6L311.9,1477.1L313.3,1480.2L314.8,1485.1L316.1,1482L317.4,1478.9L318,1473.6L319.6,1471.8L320.9,1470.5L321.5,1476.2L322.7,1481.1L323.8,1478.9L324.2,1472.7L325.8,1474.5L327.4,1471.8L328.9,1475.8L330.4,1473.6L332.1,1471.4L333.3,1465.7L334.1,1459.1L335,1456.7L336.3,1459.1L337,1463.9L338.5,1466.1L340.3,1467L341.2,1472.7L342.1,1478L343,1483.3L344.1,1485.1L345,1476.2L346,1480.7L346.9,1471.8L348,1473.6L348.7,1480.7L350,1483.3L351.8,1483.7L352.9,1487.7L354,1489.9L354.7,1495.6L355.6,1502.7L356.8,1508L358.8,1509.3L360,1513.3L360.8,1516.3L362.1,1511.5L363.2,1514.1L364.1,1516.3L365.2,1508L366.3,1511.5L367.6,1505.3L368.2,1500L369.8,1497.4L371.4,1500.9L372.6,1497.8L373.8,1494.7L374.9,1492.5L375.6,1485.1L376.2,1477.1L377.3,1470.5L378.2,1464.8L379.5,1462.1L381.3,1461.3L382.9,1460.4L383.2,1455.1L384.4,1454.7L385,1460.4L385.7,1471L386.1,1485.1L387.4,1477.6L388.1,1485.9L389,1493.9L390.1,1496.1L391.1,1488.6L392,1482.4L393.8,1482.4L394.5,1493L395.8,1496.1L397,1504.9L398.2,1497.4L399.6,1500.9L400.2,1493L401.4,1487.3L402.4,1485.9L403.5,1489L404.6,1495.6L406.1,1497.8L407,1492.1L408.1,1499.2L409.3,1493.9L409.9,1487.7L411.7,1487.7L413,1489.9L414.1,1492.1L414.3,1493.4M416.5,1491.7L417.8,1492.1L418.5,1489L419.9,1489.5L420.7,1495.6L421.8,1500L422.9,1494.3L424,1495.6L425.3,1497.8L426.7,1495.6L428,1493.9L429.9,1494.3L430.8,1487.7L432.2,1485.9L433.4,1491.7L435,1491.2L435.5,1480.7L435.9,1471.8L437,1473.6L437.5,1483.3L439.3,1481.1L440.5,1484.2L441.6,1488.1L443,1492.5L444.7,1492.5L446.9,1493.9L448.2,1492.1L449.8,1492.5L450.6,1492.5L451.3,1497L453.2,1498.1L455.7,1497.8L456.3,1502.7L457.2,1506.2L458.5,1505.3L459.8,1501.8L461.1,1498.7L462,1503.6L463.3,1500.9L464.5,1505.3L465.7,1504.4L466.6,1499.2L467.5,1494.7L468.4,1497.4L470,1501.8L471.3,1499.2L472.6,1497.4L473.9,1497L475.2,1499.6L476.6,1501.8L477.9,1507.1L479.2,1506.2L480.7,1509.7L482.1,1507.1L483.6,1508L484.9,1508L485.6,1511.5L487.1,1511.5L488.3,1508.4L489.3,1508L490.7,1511.9L492,1508.8L493.3,1509.3L494.4,1512.8L496.4,1512.5L497.7,1511L498.3,1508L499.9,1505.3L500.8,1500L501.9,1498.3L503,1498.7L504.1,1503.1L505.2,1497.4L506.5,1496.1L507.1,1492.1L508.3,1491.7L509.6,1493L510.3,1497L511.8,1493.9L513.1,1491.7L514.4,1493L515.6,1498.7L516.7,1495.6L518,1494.7L519.3,1496.5L521.1,1496.1L522.8,1497.4L524.6,1498.7L526.8,1497L528.5,1498.7L530.7,1499.2L532.1,1501.8L533.4,1498.3L535,1497.4L535.3,1494.7L537.4,1492.1L539.1,1493.9L540.3,1491.7L540.9,1486.8L542.2,1485.1L544,1487.7L544.8,1482.9L546.2,1485.5L547.9,1484.2L549.7,1484.2L551.7,1484.4L552.8,1486.8L553.5,1492.5L554.5,1493.2L556.3,1490.8L557.9,1489L558.9,1491.2L560.7,1491.2L562,1489L563.2,1485.1L564.7,1484.9L566.4,1486.8L568.2,1488.6L569.5,1485.9L571.3,1485.9L572.6,1484.6L573.2,1482.4L574.6,1481.5L575.2,1475.4L576.6,1474.5L578.1,1474L579.4,1475.8L580.8,1475.5L581.4,1471.8L583.2,1469.6L583.8,1467L585.4,1466.7L587,1468.3L588.5,1469.2L589.6,1472.7L590.8,1473.6L591.7,1471L592.2,1460.4L593.1,1453.3L594.2,1449.8L595.1,1444.5L595.9,1441.9L596.8,1442.3L597.7,1446.3L599,1447.6L599.9,1441L601.2,1439.7L602.3,1443.6L603.2,1450.7L604.1,1451.1L604.9,1443.2L605.8,1443.6L606.7,1455.1L608.1,1454.7L609,1448.1L609.2,1437.5L610.2,1435.7L611.1,1444.5L612.7,1445L614,1441.9L614.9,1441L616,1445.9L617.1,1444.5L618.7,1443.2L619.3,1433.5L620.6,1432.6L621.9,1431.8L623.3,1434.4L624.6,1433.1L625.7,1431.8L626.1,1422.5L627.2,1421.6L628.1,1426L629.3,1428.7L630.7,1430.4L632.2,1430.9L633.1,1434.8L634.3,1438.4L636,1438.8L637.2,1436.6L638.1,1431.3L638.9,1427.8L639.8,1423.4L640.7,1419.8L642.8,1418.1L643.7,1422.5L645.4,1425.1L646.6,1430.4L647.6,1433L649.2,1433.9L650.3,1429.5L651,1424.7L652,1426.9L653.1,1430.4L655.1,1432.2L656.9,1433L658,1431.3L658.2,1425.1L660,1422.9L661.7,1425.1L663,1427.8L664.4,1425.1L665.9,1428.2L667,1428.6L668.1,1433L669.2,1435.7L671,1436.6L672.1,1440.1L673.6,1439.6L675.4,1441L677.1,1440.1L678.3,1435.7L679.5,1433L680.4,1427.8L681.3,1423.3L682,1418.9L682.9,1416.3L683.9,1413L685.9,1413L688,1413.2L688.3,1418.9L689,1423.3L690.8,1423.8L692.4,1424.2L693.6,1426.9L694.8,1424.2L695.9,1421.1L697.4,1421.6L698.9,1423.8L699.6,1418.9L700.3,1414.5L701.5,1411.5L702.2,1404L703,1397.8L704.9,1397.4L705.6,1393.4L706.2,1384.6L706.8,1379.7L708,1380.2L708.6,1385.9L709.7,1389.9L710.9,1394.3L712.1,1395.2L712.8,1384.6L714.1,1383.7L715,1391.6L716.8,1393.4L717.7,1396.9L718.8,1396L719.9,1391.6L721.2,1386.3L722.3,1381.1L723,1373.1L723.8,1367.7L725,1368.7L725.3,1376.7L726.9,1378L728,1376.7L728.2,1369.6L729.1,1368.7L730.3,1373.1L731.3,1377.1L732.6,1371.4L734,1371.8L735,1375.3L735.7,1374.4L736,1360.8L737,1361.7L738.4,1364.8L739.7,1363.4L740.3,1359L741.5,1355.1L742.6,1351.1L743.7,1349.3L744.1,1337.9L745.2,1336.1L747.2,1336.6L747.9,1333.5L748.1,1327.8L749.1,1328.2L749.6,1333.5L751.6,1333.9L753.2,1337L754.1,1334.4L754.4,1317.6L755.1,1308.8L755.6,1300.9L756,1294.5L756.7,1303.3L757.6,1293.7L758.7,1291.9L759.2,1281.3L759.8,1268.1L761,1266.3L761.3,1276.9L761.9,1285.7L762.7,1276.9L764,1276.5L765.1,1277.8L765.6,1287.5L766.4,1295.4L767.5,1289.3L768.2,1280.4L769.1,1275.6L770.7,1273.4L771.9,1269.9L772.8,1266.8L773.3,1258.4L774.2,1254.9L775.4,1254.9L776.6,1257.5L777.4,1261.9L778.3,1259.3L778.8,1268.1L779.5,1276.9L780.4,1283.1L781.4,1284.8L782.3,1276.9L783.6,1273.8L784.5,1268.1L785.8,1264.6L786.7,1268.1L787.1,1279.6L788.3,1281.3L789.8,1280.4L790.4,1271.6L791.1,1264.6L792.7,1261.9L793.3,1252.2L793.9,1241.7L794.8,1237.3L796.4,1235.9L797.7,1236.4L798.1,1244.3L799.2,1241.7L799.5,1229.3L799.9,1219.6L801.7,1217.9L802.7,1214.4L803.6,1209.1L804.3,1199.8L805.6,1198.1L806.1,1191.5L807.1,1191L808,1198.1L808.9,1189.7L810.5,1189.5L811.5,1191.5L812.1,1200.3L812.4,1215.2L813,1227.6L814,1222.3L814.7,1206.4L814.9,1193.7L815.9,1194.1L816.7,1203.8L817.5,1197.6L819.3,1197.6L820.6,1202L821.2,1210.8L822.4,1218.8L823.3,1215.2L824.4,1216.1L825,1224.1L825.9,1232L826.8,1234.6L828.1,1241.7L829.2,1243L830,1233.7L831.2,1225.8L832.1,1219.6L833.4,1221.4L834.7,1217L835.9,1215.7L836.9,1220.5L838,1223.2L839.6,1221.4L841.1,1219.6L841.5,1210.8L842.2,1205.6L843.5,1203.8L844.8,1200.3L845.3,1195L846.8,1192.3L847.7,1185.7L849.1,1186.2L849.7,1193.2L851.2,1195.4L852.3,1196.7L853.2,1188.8L854.1,1183.5L854.5,1171.6L855.7,1167.2L856.6,1158.4L857.4,1155.7L858.9,1155.3L860.4,1155.7L862,1158.8L863.3,1161L864.2,1164.1L865.1,1160.1L865.6,1151.3L866,1143.8L867.5,1145.2L869.1,1146.9L870.4,1149.6L871.9,1156.2L873,1154L873.9,1146.9L874.5,1139L876.1,1135.9L877.9,1135.5L879.6,1139.9L880.7,1137.2L881.2,1131.1L882.3,1124.9L882.7,1107.3L883.6,1102L884.1,1093.2L884.9,1079.1L885.8,1067.6L886.6,1055.9L887.5,1048L888.8,1048.4L889.9,1062.9L891,1052.4L892.3,1051.5L893.7,1055L894.1,1067.3L894.5,1079.7L895.9,1080.1L897.2,1076.2L897.6,1058.5L898.1,1027.7L898.7,996.9L899.2,970.4L899.6,946.5L901,946.5L901.3,970.4L902,989.8L902.7,998.6L903.3,1062.1L903.6,1112.6L904.8,1061.5L905.6,1101.1L906.3,1055.3L907.7,1075.6L908.7,1074.7L909.6,1057L909.8,1024.2L910.4,1018L911.3,1011.4L912.6,1011.8L913.3,1023.3L913.5,1036.5L913.9,1062.1L915.1,1067.3L916.1,1061.2L916.6,1049.7L917,1037.4L918.1,1032.1L919.2,1032.1L920.1,1042.2L921.2,1038.3L921.9,1032.1L922.3,1021.5L922.7,1005.7L923.9,1004.4L925.4,1004.8L925.8,1021.5L926.3,1040.9L926.4,1058.5L927.1,1079.7L928.5,1059.4L929.8,1060.3L930.4,1081.4L930.6,1107.3L930.9,1114.8L932.1,1105.5L932.5,1094.9L933.6,1084.4L935.6,1084.4L936.7,1086.1L936.9,1108.1L938.2,1107.3L938.7,1095.8L940,1095.8L940.9,1109.9L941.3,1129.3L942.2,1154.8L942.6,1168.9L943.2,1194.9L945.1,1182.1L945.8,1204.6L947.1,1201.9L947.6,1176.4L948.3,1158.8L949.3,1151.7L949.7,1146.9L950.6,1137.2L950.8,1113.4L951.9,1095.8L953.2,1094.1L953.7,1072L955,1067.2L956.3,1070.3L957,1078.2L957.6,1091.4L958.5,1104.6L960.3,1107.3L961.4,1109.9L962.3,1106.4L962.6,1086.1L963.3,1065.9L964.2,1057L965.3,1055.7L966,1065.9L966.7,1079.1L967.3,1085.2L968.2,1093.2L969.1,1100.2L970.2,1100.2L970.8,1087L971.3,1070.3L972.6,1065.9L973.9,1060.6L975.2,1061.5L975.7,1076.4L976.1,1090.5L977.3,1085.2L977.9,1067.6L979,1058.4L980.1,1058.8L980.5,1077.3L981.4,1076.4L981.9,1052.6L982,1028.6L982.6,1009.2L983.3,989.8L984,974.8L984.7,967.3L985.9,967.1L986.8,974.8L987.7,967.3L989.3,972.2L989.7,959L991.5,958.5L992.6,954.6L993.5,948.8L994.4,953.7L994.5,978.4L995.1,1003L996.3,992.5L997.4,993.3L997.5,1026.8L998.9,1016.2L999.1,1032.1L1000,1039.6L1001.6,1037.4L1002,1019.8L1003.8,1019.3L1005.1,1023.3L1005.6,1012.7L1006.2,1000.4L1006.9,987.2L1007.6,963.4L1008.8,962.9L1009.5,974.8L1010.2,959.4L1010.8,954.6L1011.7,959.9L1012.6,973.1L1013.2,986.3L1014.4,985.4L1015.2,988.1L1015.5,1020.7L1017,1019.8L1017.4,1003.9L1018.8,1013.6L1019.2,1033.9L1020.5,1042.7L1021.4,1040.9L1021.9,1012.7L1023.2,1011.8L1023.6,996L1024.9,996L1025.8,1002.1L1026.3,1020.7L1027,1030.3L1028,1032.1L1028.5,1046.2L1028.9,1054.1L1029.4,1075.6L1030.7,1068.5L1031.2,1094.1L1032.1,1100.2L1033,1082.6L1034.3,1094.1L1035.2,1092.3L1035.8,1081.3L1036.9,1081.7L1037.4,1102.9L1037.8,1120.5L1038.2,1126.7L1039.3,1111.7L1041.9,1076.2L1042.6,1058.5L1043.9,1051.5L1044.6,1039.2L1044.9,1022.4L1045.6,1011.8L1046.7,1011.8L1047.8,1014.5L1048.7,1038.3L1049.6,1037.4L1049.9,1007.4L1050.9,1011L1051.8,1021.5L1052.2,1033.9L1054,1033.9L1054.9,1023.3L1056,1021.5L1057.1,1025.1L1058,1032.1L1058.1,1051.5L1058.9,1058.5L1059.6,1066L1060.3,1054.1L1060.8,1065.6" fill="none" stroke="#000" stroke-width="2.5" stroke-linejoin="miter" stroke-miterlimit="2.5" clip-path="url(#c2)"/>
<g stroke="#202020" stroke-linecap="square" fill="none"><line x1="71.5" y1="946.5" x2="71.5" y2="1554.5" stroke-width="2.8"/><line x1="71.5" y1="946.5" x2="1061.0" y2="946.5" stroke-width="2.9"/><line x1="1061.0" y1="946.5" x2="1061.0" y2="1554.5" stroke-width="2.3"/><line x1="71.5" y1="1554.5" x2="1061.0" y2="1554.5" stroke-width="2.8"/></g>
<text transform="translate(71.50,1601.50) scale(0.76,1)" text-anchor="middle" font-size="34.6" fill="#202020" stroke="#202020" stroke-width="0.2">0</text>
<text transform="translate(192.91,1601.50) scale(0.76,1)" text-anchor="middle" font-size="34.6" fill="#202020" stroke="#202020" stroke-width="0.2">100</text>
<text transform="translate(314.32,1601.50) scale(0.76,1)" text-anchor="middle" font-size="34.6" fill="#202020" stroke="#202020" stroke-width="0.2">200</text>
<text transform="translate(435.73,1601.50) scale(0.76,1)" text-anchor="middle" font-size="34.6" fill="#202020" stroke="#202020" stroke-width="0.2">300</text>
<text transform="translate(557.14,1601.50) scale(0.76,1)" text-anchor="middle" font-size="34.6" fill="#202020" stroke="#202020" stroke-width="0.2">400</text>
<text transform="translate(678.56,1601.50) scale(0.76,1)" text-anchor="middle" font-size="34.6" fill="#202020" stroke="#202020" stroke-width="0.2">500</text>
<text transform="translate(799.97,1601.50) scale(0.76,1)" text-anchor="middle" font-size="34.6" fill="#202020" stroke="#202020" stroke-width="0.2">600</text>
<text transform="translate(921.38,1601.50) scale(0.76,1)" text-anchor="middle" font-size="34.6" fill="#202020" stroke="#202020" stroke-width="0.2">700</text>
<text transform="translate(1042.79,1601.50) scale(0.76,1)" text-anchor="middle" font-size="34.6" fill="#202020" stroke="#202020" stroke-width="0.2">800</text>
<text transform="translate(61.00,1515.33) scale(0.76,1)" text-anchor="end" font-size="34.6" fill="#202020" stroke="#202020" stroke-width="0.2">5</text>
<text transform="translate(61.00,1383.16) scale(0.76,1)" text-anchor="end" font-size="34.6" fill="#202020" stroke="#202020" stroke-width="0.2">10</text>
<text transform="translate(61.00,1250.98) scale(0.76,1)" text-anchor="end" font-size="34.6" fill="#202020" stroke="#202020" stroke-width="0.2">15</text>
<text transform="translate(61.00,1118.81) scale(0.76,1)" text-anchor="end" font-size="34.6" fill="#202020" stroke="#202020" stroke-width="0.2">20</text>
<text transform="translate(61.00,986.63) scale(0.76,1)" text-anchor="end" font-size="34.6" fill="#202020" stroke="#202020" stroke-width="0.2">25</text>
<path d="M192.91,1554.5v-13.8M192.91,946.5v13.3M314.32,1554.5v-13.8M314.32,946.5v13.3M435.73,1554.5v-13.8M435.73,946.5v13.3M557.14,1554.5v-13.8M557.14,946.5v13.3M678.56,1554.5v-13.8M678.56,946.5v13.3M799.97,1554.5v-13.8M799.97,946.5v13.3M921.38,1554.5v-13.8M921.38,946.5v13.3M1042.79,1554.5v-13.8M1042.79,946.5v13.3M71.5,1501.63h11.4M1061.0,1501.63h-10.9M71.5,1369.46h11.4M1061.0,1369.46h-10.9M71.5,1237.28h11.4M1061.0,1237.28h-10.9M71.5,1105.11h11.4M1061.0,1105.11h-10.9M71.5,972.93h11.4M1061.0,972.93h-10.9" fill="none" stroke="#202020" stroke-width="2.4"/>
<text transform="translate(565.25,926.70) scale(0.783,1)" text-anchor="middle" font-size="52.7" fill="#000" stroke="#000" stroke-width="0.35" word-spacing="2">EUA DEC20</text>
</g>
<g>
<clipPath id="c3"><rect x="1373.5" y="946.5" width="991.0" height="608.0"/></clipPath>
<path d="M1602.4,1504.9L1603.5,1505.3L1604.2,1509.7L1605.3,1509.3L1605.7,1502.7L1606.2,1494.7L1607.3,1492.5L1608.4,1496.5L1609.4,1495.6L1609.7,1485.9L1610.9,1483.3L1611.9,1478L1612.4,1469.2L1613.2,1465.7L1614.1,1470.1L1615.4,1471.4L1616.8,1477.1L1618.1,1474.5L1618.8,1471.8L1620,1467L1621.6,1464.8L1622.9,1462.6L1623.5,1469.2L1624.7,1474L1625.8,1473.2L1626.2,1466.6L1627.9,1467L1629.5,1463.9L1630.9,1467L1632,1471.4L1633.5,1470.5L1634.8,1467.4L1635.5,1461.3L1636.4,1455.1L1638.2,1454.7L1638.8,1460.4L1640.5,1463L1642.7,1464.8L1643.5,1471L1644.3,1477.1L1645.2,1481.5L1646.1,1483.3L1647,1474.5L1648.2,1478.9L1649.1,1470.1L1650.2,1471L1650.9,1478.9L1652.4,1480.7L1654.2,1482L1654.9,1485.1L1656,1486.8L1656.7,1492.1L1657.6,1499.2L1658.4,1506.2L1659.9,1507.1L1661.4,1508L1662.1,1511.9L1662.8,1514.6L1664.1,1509.3L1665.2,1511.9L1666.4,1514.6L1667.2,1505.8L1668.5,1509.7L1669.6,1504.4L1670.1,1498.7L1671.4,1497L1672.3,1494.7L1673.6,1499.2L1674.6,1495.6L1675.8,1496.5L1676.7,1492.1L1677.3,1487.7L1677.8,1478L1678.7,1473.6L1679.6,1472.7L1679.9,1494.3L1680.5,1480.7L1680.8,1461.3L1682,1460.4L1683.3,1460.8L1684.6,1460.4L1685.2,1454.2L1686.4,1453.8L1687.2,1458.6L1687.7,1465.7L1688.4,1483.3L1689.6,1477.1L1690.3,1485.9L1691.2,1492.1L1692.1,1493.9L1693,1487.7L1694,1480.7L1695.8,1480.7L1696.5,1487.7L1697.2,1493.9L1698.3,1495.2L1699,1503.6L1700,1498.7L1701.3,1495.6L1702.2,1499.6L1703.1,1492.1L1703.7,1485.1L1705.3,1484.6L1706,1488.6L1707.1,1495.6L1708.1,1496.5L1709,1489.9L1710.6,1497.8L1711.6,1492.1L1712.4,1486.4L1713.4,1485.9L1714.8,1487.7L1716.1,1490.8L1717.5,1492.1L1719,1489.9L1720.5,1487.3L1721.6,1486.8L1722.7,1493L1723.8,1497.4L1724.9,1491.2L1726,1493L1727.3,1496.1L1728.7,1493.9L1730,1492.1L1732.2,1492.5L1733.1,1484.2L1734.4,1483.7L1735.7,1489.5L1737,1488.6L1737.7,1480.7L1738.1,1470.1L1739.2,1470.1L1739.7,1479.8L1741.3,1479.3L1742.7,1482.4L1743.9,1486.8L1745.1,1490.3L1746.9,1490.3L1748.5,1491.7L1749.8,1489.5L1751.8,1489.9L1752.1,1489.9L1753.3,1493L1754.3,1495.6L1756.5,1495.6L1758.3,1496.1L1759.2,1500L1760.1,1504.4L1761.2,1502.7L1762.4,1498.7L1763.9,1495.6L1764.7,1500.9L1766,1499.2L1767.1,1503.6L1768,1504L1768.9,1496.5L1770,1491.7L1771.1,1495.6L1772.1,1499.2L1773.5,1498.3L1774.8,1495.6L1775.7,1492.1L1776.4,1483.3L1777.4,1480.7L1778.3,1483.3L1778.6,1495.6L1779.4,1500L1780.3,1504.4L1781.6,1504.4L1783,1507.1L1784.3,1504.4L1785.6,1505.8L1786.9,1506.2L1788,1509.3L1789.4,1510.2L1790.5,1506.6L1791.8,1505.3L1792.9,1508.8L1794.2,1507.1L1795.3,1508L1796.2,1511L1797.7,1509.7L1799.3,1509.3L1800.1,1506.2L1801.7,1504.9L1802.4,1500L1803.5,1497.4L1804.7,1496.1L1805.9,1497L1806.8,1500L1807.6,1495.6L1808.8,1493.9L1809.4,1489.5L1811.2,1489L1812.5,1493.9L1813.8,1490.8L1815.1,1488.6L1816.4,1489.9L1817.3,1493.9L1818.5,1497L1819.4,1494.7L1820,1492.1L1821.7,1493.9L1823.5,1493.4L1825.3,1494.3L1827,1496.5L1828.2,1494.7L1829.7,1493.9L1831,1496.1L1832.7,1497L1834.3,1499.2L1835.2,1495.2L1837,1494.3L1837.6,1491.2L1839.4,1489.9L1840.5,1488.6L1842,1490.8L1842.9,1487.7L1843.8,1483.7L1845.1,1482.9L1846.4,1484.6L1847.7,1479.8L1848.6,1483.7L1850.2,1482.4L1851.4,1481.1L1853,1481.1L1854.8,1482.9L1855.8,1486.4L1856.7,1487.7L1858.3,1485.5L1859.9,1484.2L1860.9,1486.4L1862.5,1485.9L1864,1484.2L1864.9,1480.7L1866.7,1478.9L1868.4,1481.1L1869.6,1482.9L1871.1,1482.4L1872.2,1479.8L1873.7,1479.3L1874.6,1478.9L1875.2,1474.9L1876.8,1474.5L1877.7,1468.8L1879,1467L1880.8,1467.4L1882.1,1468.8L1883.4,1467L1884.3,1464.4L1885.8,1462.1L1886.3,1459.1L1887.8,1459.1L1889.3,1460.4L1890.9,1461.7L1891.8,1465.2L1893.1,1466.1L1894,1463.9L1894.4,1456.9L1895.1,1448.1L1896,1445.4L1897.1,1439.7L1897.9,1437L1899,1434.8L1899.7,1439.2L1901,1441.9L1901.9,1441L1902.5,1434.8L1904.1,1433.5L1905.4,1433.1L1906.1,1438.8L1906.9,1430.9L1908.1,1431.3L1909,1441L1910.1,1444.1L1911.2,1437.5L1911.6,1424.3L1912.5,1423.8L1913.4,1434L1914.9,1434L1916.3,1430.4L1917.3,1430.4L1918.7,1434.8L1920,1433.5L1921.3,1432.2L1921.7,1423.8L1922.6,1422.1L1923.9,1422.5L1924.8,1427.3L1926.1,1429.1L1927.9,1427.3L1928.3,1420.7L1929,1415.9L1930.1,1418.5L1931,1421.6L1932.3,1424.7L1934.1,1426L1935.8,1427.8L1936.3,1434L1937.8,1434.8L1939.4,1434.4L1940.2,1428.7L1941.1,1425.1L1941.8,1421.6L1942.1,1419.5L1943.5,1416L1944.8,1414.7L1945.9,1417.8L1947.2,1420L1948,1424.8L1949.2,1428.3L1950.1,1430.3L1950.9,1431L1952.1,1429.2L1952.7,1422.2L1953.6,1420.4L1954.5,1425.7L1956.2,1427.9L1957.6,1430.1L1958.4,1430.5L1959.5,1429.2L1960.2,1423L1961.5,1420L1963.3,1421.3L1964.6,1422.6L1965.9,1422.2L1967.2,1425.7L1968.6,1423L1969.9,1424.8L1970.8,1429.2L1971.6,1431.9L1973,1433.2L1974.3,1436.3L1975.8,1436.7L1977.4,1437.6L1979.1,1436.3L1980.3,1432.3L1981.2,1429.2L1981.8,1425.7L1982.9,1422.2L1983.8,1415.1L1984.7,1411.6L1985.7,1408.5L1987.9,1408.5L1990.1,1408.9L1990.6,1414.2L1991.2,1419.5L1992.8,1420L1994.4,1420.8L1995.9,1423.9L1997.2,1420.4L1997.9,1417.8L1999.8,1417.8L2001.6,1419.1L2002,1415.1L2002.7,1410.7L2003.8,1408.1L2004.2,1401L2005,1395.7L2006.7,1394L2007.3,1389.6L2007.9,1380.7L2008.7,1374.6L2009.7,1373.7L2010.4,1379.9L2011.7,1383.8L2012.9,1387.8L2014.1,1389.1L2014.8,1379L2016.1,1377.7L2017,1385.2L2018.8,1386L2019.7,1390.9L2020.8,1390L2021.9,1384.3L2023.2,1381.6L2024.3,1374.6L2025,1367.5L2025.6,1361.4L2027.2,1361.4L2027.6,1370.2L2029.4,1371.9L2030.5,1369.3L2030.9,1362.2L2032,1361.8L2032.9,1367.5L2034,1371.1L2035.1,1365.8L2036.4,1364L2037.3,1367.5L2037.9,1367.1L2038.1,1354.8L2039.5,1354.8L2041.3,1358.7L2042.6,1356.1L2043.2,1349L2044.3,1345.5L2045.7,1342.9L2046.4,1335.8L2047,1328.8L2048.7,1328.8L2049.9,1327.9L2050.2,1320.8L2051.1,1319.5L2052,1325.2L2053.6,1328.8L2055.3,1332.7L2056.4,1325.2L2056.9,1312L2057.6,1302.3L2058.4,1294.4L2058.7,1290.3L2059.4,1298.6L2060.5,1289.8L2060.9,1280.1L2061.6,1266.9L2062.4,1260.3L2063.3,1260.7L2063.9,1266.9L2064.5,1279.3L2065.6,1271.3L2066.8,1269.6L2067.6,1275.7L2068.3,1283.7L2069.1,1288.5L2070,1284.5L2070.6,1275.7L2071.1,1268.7L2072.4,1266.9L2073.7,1265.2L2074.8,1262.5L2075.3,1256.3L2075.9,1249.3L2077.1,1247.5L2078.3,1249.3L2079.7,1250.2L2080.6,1252.8L2080.9,1262.5L2081.6,1270.4L2082.7,1274.8L2083.9,1276.2L2084.7,1269.6L2085.6,1265.2L2086.5,1260.7L2087.6,1256.8L2088.9,1256.8L2089.1,1266.9L2090,1272.2L2091.3,1273.1L2092.7,1269.6L2093.1,1259.9L2093.8,1255.9L2094.9,1254.6L2095.3,1244.9L2095.9,1237L2096.8,1228.1L2098.4,1227.3L2099.7,1228.1L2100.1,1236.1L2101.2,1235.2L2101.5,1221.1L2101.9,1211.4L2103.2,1209.6L2104.6,1207L2105.3,1200.8L2105.9,1191.1L2107.4,1189.4L2108.1,1185L2108.5,1180.6L2110.3,1188.5L2111.6,1180.6L2113.5,1181L2114.1,1186.7L2114.4,1205.2L2115,1217.6L2116,1214.9L2116.7,1199.1L2117.1,1184.1L2118.2,1183.7L2119.1,1192L2120.2,1187.6L2121.3,1183.7L2122.6,1184.1L2123.2,1192.9L2124.1,1200.8L2125.3,1200L2126.4,1200.4L2127,1209.6L2127.9,1219.3L2129.2,1221.1L2130.3,1227.3L2131.2,1230.4L2132.3,1222.9L2133.2,1215.8L2133.8,1208.8L2134.5,1207.9L2135.8,1209.6L2137.2,1207L2137.9,1202.6L2138.9,1202.6L2139.6,1209.6L2140.7,1211.4L2142,1208.8L2143.3,1207L2144,1196.4L2144.9,1191.1L2146.4,1191.6L2147.3,1186.7L2148.2,1180.6L2149.3,1178.8L2149.9,1173.5L2151.3,1173.5L2152,1178.8L2153,1180.6L2154.1,1183.2L2155.7,1181.5L2156.4,1172.6L2156.5,1158.4L2157.7,1155.7L2158.7,1149.6L2159.6,1144.3L2160.9,1143.4L2162.4,1142.1L2164,1142.5L2165.1,1146.9L2166.2,1148.2L2167.4,1146L2167.7,1139L2168,1128.9L2169.3,1129.3L2170.6,1131.5L2172.4,1133.7L2173.7,1138.1L2174.8,1139.9L2175.9,1137.2L2176.4,1131.1L2177.2,1124.9L2178.1,1121.4L2179.9,1120.9L2181.6,1123.1L2183,1121.8L2184.1,1118.7L2184.5,1109.9L2185.2,1094.1L2185.9,1087L2186.5,1078.2L2187.4,1065.9L2188,1054.4L2188.8,1046.6L2189.5,1030.8L2191,1030.8L2191.9,1045.3L2193,1035.6L2194.5,1034.7L2195.9,1037.4L2196,1061.2L2197.6,1063.8L2198.9,1062.1L2199.8,1049.7L2200.4,1032.1L2201,1005.7L2201.6,981L2202,946.5L2203.3,946.5L2204,970.4L2204.7,996.9L2205.2,1026.8L2205.7,1067.3L2206.3,1094L2207,1067.3L2207.8,1045.3L2209.1,1035.6L2210.4,1034.7L2211,1012.7L2211.7,1003L2212.8,998.6L2213.9,991.6L2215.1,988.5L2216.1,996.9L2216.3,1024.2L2217.4,1040.5L2218.6,1040L2218.9,1009.2L2220.1,1002.1L2221.2,1001.7L2222.3,1009.2L2223.6,1003.9L2224.1,996.9L2224.9,981L2225.6,970.4L2227.1,968.7L2228,979.2L2228.5,1005.7L2228.9,1027.7L2229.3,1044.4L2230.7,1044.4L2231.1,1027.7L2232,1023.3L2232.7,1032.1L2233,1057.7L2233.2,1084.4L2233.9,1083.2L2234.8,1071.8L2235.3,1058.5L2235.7,1048L2236.6,1047.8L2237.1,1057.7L2238,1060.3L2238.6,1067.3L2239.2,1079.7L2240.4,1080.1L2241,1073.1L2242.3,1072.6L2242.7,1080.6L2243.3,1094L2244,1113.4L2244.6,1126.7L2245.1,1146.9L2245.5,1164.5L2246.4,1174.2L2247.7,1163.7L2248.2,1178.6L2249,1186.1L2249.9,1175.1L2250.2,1146.9L2251.3,1142.5L2252.1,1131.1L2252.8,1111.7L2253.9,1095.8L2254.8,1078.2L2255.8,1069.4L2256.5,1052.6L2256.8,1051.3L2258.2,1051.3L2258.9,1058.5L2259.7,1065.6L2260.4,1080.8L2261,1090.5L2262.3,1087L2263.6,1091.8L2264.5,1080.8L2265,1056.8L2265.6,1042.7L2266.8,1037.4L2268.1,1040L2268.5,1053.3L2269.7,1054.1L2270.3,1067.3L2271.6,1080.1L2272.5,1074.4L2273,1058.5L2273.6,1049.7L2274.7,1045.3L2276,1042.7L2277.4,1042.2L2277.8,1054.1L2278,1071.3L2279.1,1069.1L2280,1058.5L2280.6,1039.6L2282.2,1039.2L2282.6,1055L2283.2,1058.5L2283.8,1048.8L2284,1032.1L2284.4,1016.2L2285.3,999.5L2285.7,979.2L2286.4,970.4L2287,955.5L2288.2,949.3L2289.3,946.5L2290.1,953.7L2291.2,952.4L2292.3,946.5L2293.2,941.4L2295.9,941.4L2296.7,946.5L2297,974L2297.4,985.9L2298.5,974.8L2298.9,1001.3L2299.6,1014.5L2300.5,994.7L2301.6,1001.3L2302,1021.5L2303.3,1020.7L2303.8,1004.8L2305.1,1003.9L2305.6,1011L2306.7,1008.3L2307,1000.4L2307.8,986.3L2309.1,980.1L2309.7,961.6L2310.2,957.2L2311.3,946.5L2312.2,942.2L2313.5,946.5L2313.9,955.5L2315.2,949.3L2315.7,961.6L2316.6,969.6L2317.3,988.9L2317.9,1004.8L2318.8,986.3L2320.3,987.2L2321,995.1L2321.1,1011L2322,1023.3L2322.9,1028.6L2323.8,1022.4L2324.3,998.6L2325.4,995.1L2325.8,982.8L2327,981.4L2328,986.3L2328.9,995.1L2329.1,1018L2331.1,1017.1L2331.4,1032.1L2331.5,1061.2L2332.4,1051.5L2333,1071.1L2334.1,1086.1L2335.4,1079.9L2336.3,1068.5L2337.6,1079.1L2338.9,1067.6L2339.4,1091.4L2340.3,1113L2341.3,1111.7L2342.6,1093.8L2343.4,1084L2343.9,1063.8L2344.6,1044.4L2345.6,1033.9L2346.5,1023.3L2347.4,1000.4L2348.7,999.5L2349.6,1005.7L2350.5,1025.1L2351.4,1023.3L2351.6,995.1L2352.7,994.7L2354,1000.4L2354.4,1018.9L2355.3,1020.7L2356.7,1022.4L2357.5,1020.7L2357.8,1010.1L2359.3,1009.6L2359.9,1016.2L2360.2,1033L2361.1,1032.1L2361.3,1047.1L2361.9,1054.1L2362.8,1040L2364,1041.8L2364.5,1057.7" fill="none" stroke="#000" stroke-width="2.5" stroke-linejoin="miter" stroke-miterlimit="2.5" clip-path="url(#c3)"/>
<g stroke="#202020" stroke-linecap="square" fill="none"><line x1="1373.5" y1="946.5" x2="1373.5" y2="1554.5" stroke-width="3.0"/><line x1="1373.5" y1="946.5" x2="2364.5" y2="946.5" stroke-width="2.9"/><line x1="2364.5" y1="946.5" x2="2364.5" y2="1554.5" stroke-width="2.8"/><line x1="1373.5" y1="1554.5" x2="2364.5" y2="1554.5" stroke-width="2.8"/></g>
<text transform="translate(1373.50,1601.50) scale(0.76,1)" text-anchor="middle" font-size="34.6" fill="#202020" stroke="#202020" stroke-width="0.2">0</text>
<text transform="translate(1495.10,1601.50) scale(0.76,1)" text-anchor="middle" font-size="34.6" fill="#202020" stroke="#202020" stroke-width="0.2">100</text>
<text transform="translate(1616.69,1601.50) scale(0.76,1)" text-anchor="middle" font-size="34.6" fill="#202020" stroke="#202020" stroke-width="0.2">200</text>
<text transform="translate(1738.29,1601.50) scale(0.76,1)" text-anchor="middle" font-size="34.6" fill="#202020" stroke="#202020" stroke-width="0.2">300</text>
<text transform="translate(1859.88,1601.50) scale(0.76,1)" text-anchor="middle" font-size="34.6" fill="#202020" stroke="#202020" stroke-width="0.2">400</text>
<text transform="translate(1981.48,1601.50) scale(0.76,1)" text-anchor="middle" font-size="34.6" fill="#202020" stroke="#202020" stroke-width="0.2">500</text>
<text transform="translate(2103.07,1601.50) scale(0.76,1)" text-anchor="middle" font-size="34.6" fill="#202020" stroke="#202020" stroke-width="0.2">600</text>
<text transform="translate(2224.67,1601.50) scale(0.76,1)" text-anchor="middle" font-size="34.6" fill="#202020" stroke="#202020" stroke-width="0.2">700</text>
<text transform="translate(2346.26,1601.50) scale(0.76,1)" text-anchor="middle" font-size="34.6" fill="#202020" stroke="#202020" stroke-width="0.2">800</text>
<text transform="translate(1363.00,1515.33) scale(0.76,1)" text-anchor="end" font-size="34.6" fill="#202020" stroke="#202020" stroke-width="0.2">5</text>
<text transform="translate(1363.00,1383.16) scale(0.76,1)" text-anchor="end" font-size="34.6" fill="#202020" stroke="#202020" stroke-width="0.2">10</text>
<text transform="translate(1363.00,1250.98) scale(0.76,1)" text-anchor="end" font-size="34.6" fill="#202020" stroke="#202020" stroke-width="0.2">15</text>
<text transform="translate(1363.00,1118.81) scale(0.76,1)" text-anchor="end" font-size="34.6" fill="#202020" stroke="#202020" stroke-width="0.2">20</text>
<text transform="translate(1363.00,986.63) scale(0.76,1)" text-anchor="end" font-size="34.6" fill="#202020" stroke="#202020" stroke-width="0.2">25</text>
<path d="M1495.10,1554.5v-13.8M1495.10,946.5v13.3M1616.69,1554.5v-13.8M1616.69,946.5v13.3M1738.29,1554.5v-13.8M1738.29,946.5v13.3M1859.88,1554.5v-13.8M1859.88,946.5v13.3M1981.48,1554.5v-13.8M1981.48,946.5v13.3M2103.07,1554.5v-13.8M2103.07,946.5v13.3M2224.67,1554.5v-13.8M2224.67,946.5v13.3M2346.26,1554.5v-13.8M2346.26,946.5v13.3M1373.5,1501.63h11.4M2364.5,1501.63h-10.9M1373.5,1369.46h11.4M2364.5,1369.46h-10.9M1373.5,1237.28h11.4M2364.5,1237.28h-10.9M1373.5,1105.11h11.4M2364.5,1105.11h-10.9M1373.5,972.93h11.4M2364.5,972.93h-10.9" fill="none" stroke="#202020" stroke-width="2.4"/>
<text transform="translate(1868.00,926.70) scale(0.783,1)" text-anchor="middle" font-size="52.7" fill="#000" stroke="#000" stroke-width="0.35" word-spacing="2">EUA DEC21</text>
</g>
</svg>
</body></html>
